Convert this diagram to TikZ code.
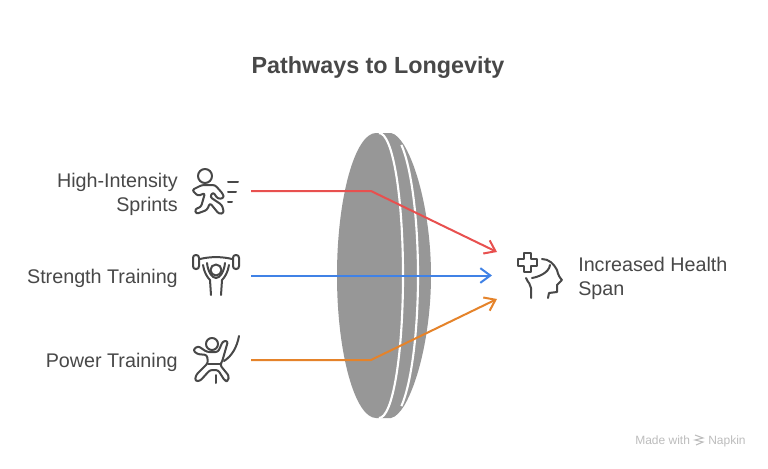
\documentclass[tikz,border=0pt]{standalone}
\usepackage{fontspec}
\setmainfont{Liberation Sans}
\usetikzlibrary{arrows.meta}
\definecolor{ink}{HTML}{484848}
\definecolor{lens}{HTML}{979797}
\definecolor{redl}{HTML}{E8504F}
\definecolor{bluel}{HTML}{4082E6}
\definecolor{orangel}{HTML}{E5832A}
\definecolor{faint}{HTML}{BDBDBD}
\tikzset{
 lab/.style={text=ink,font=\fontsize{14.8}{18}\selectfont,inner sep=0pt,align=right,anchor=east},
 labr/.style={text=ink,font=\fontsize{14.8}{18}\selectfont,inner sep=0pt,align=left,anchor=west},
 foot/.style={text=faint,font=\fontsize{9}{10}\selectfont,inner sep=0pt},
 icon/.style={draw=ink,line width=1.5pt,line cap=round,line join=round,fill=none},
 conn/.style={line width=1.5pt,-{Straight Barb[length=7.5pt,width=11pt,line width=1.5pt]},line join=round},
 gap/.style={draw=white,line width=1.6pt}
}
\begin{document}
\begin{tikzpicture}[x=0.75pt,y=-0.75pt]
\useasboundingbox (0,0) rectangle (768,468);
\fill[white] (0,0) rectangle (768,468);
\node[text=ink,font=\fontsize{17.5}{22}\selectfont\bfseries,inner sep=0pt] (title) at (378,68) {Pathways to Longevity};
% lens
\fill[lens] (376,133) .. controls (355.4,133) and (337,196.5) .. (337,275.5) .. controls (337,354.5) and (355.4,418) .. (376,418) -- (391,418) .. controls (396,417) and (400,412) .. (404,406) .. controls (420,379) and (431,326) .. (431,275.5) .. controls (431,225) and (420,172) .. (404,145) .. controls (400,139) and (396,134) .. (391,133) -- cycle;
\draw[gap] (379,133) .. controls (392.8,133) and (403,196.5) .. (403,275.5) .. controls (403,354.5) and (392.8,418) .. (379,418);
\draw[gap] plot[smooth,domain=-66:66,samples=40] ({390+28*cos(\x)},{275.5+143*sin(\x)});
% labels
\node[lab] (a) at (178,194) {High-Intensity\\Sprints};
\node[lab] (b) at (178,278) {Strength Training};
\node[lab] (c) at (178,362) {Power Training};
\node[labr] (d) at (578,278) {Increased Health\\Span};
\node[foot,anchor=base west] (m) at (635,444) {Made with};
\node[foot,anchor=base west] (n) at (708,444) {Napkin};
% connectors
\coordinate (a0) at (251,191); \coordinate (a1) at (371,191); \coordinate (a2) at (497,252);
\coordinate (b0) at (251,275.5); \coordinate (b2) at (492,275.5);
\coordinate (c0) at (251,360); \coordinate (c1) at (371,360); \coordinate (c2) at (497,299);
\draw[conn,redl] (a0) -- (a1) -- (a2);
\draw[conn,bluel] (b0) -- (b2);
\draw[conn,orangel] (c0) -- (c1) -- (c2);
% runner icon
\draw[icon] (205,176) circle (7);
\draw[icon] (228,182) -- (238,182) (228,192) -- (236,192) (228,202) -- (232,202);
\draw[icon,rounded corners=1.8pt] (192,190) -- (202,185) -- (215,185) -- (223,194) -- (224,198) -- (218,199) -- (213,192) -- (210,197) -- (222,205) -- (224,213) -- (219,214) -- (210,203) -- (207,210) -- (196,214) -- (195,209) -- (201,207) -- (205,193) -- (198,196) -- cycle;
% lifter icon
\draw[icon] (216,270) circle (5.5);
\draw[icon,rounded corners=2pt] (193,255) rectangle (199,269);
\draw[icon,rounded corners=2pt] (233,255) rectangle (239,269);
\draw[icon] (200,259) .. controls (210,256.5) and (222,256.5) .. (232,259);
\draw[icon] (203,265) .. controls (204,272) and (207,277) .. (210,280) -- (211,295);
\draw[icon] (229,265) .. controls (228,272) and (225,277) .. (222,280) -- (221,295);
\draw[icon] (207,263) .. controls (208,272) and (212,278) .. (216,278) .. controls (220,278) and (224,272) .. (225,263);
% power icon
\draw[icon] (212,344) circle (6);
\draw[icon,rounded corners=1.8pt] (193,350) -- (198,346) -- (207,352) -- (218,352) -- (223,341) -- (228,341) -- (222,362) -- (220,365) -- (229,376) -- (228,381) -- (225,381) -- (218,370) -- (210,370) -- (200,381) -- (195,381) -- (196,375) -- (208,363) -- (207,355) -- (197,354) -- cycle;
\draw[icon] (208,364) -- (221,364);
\draw[icon] (216,375) -- (216,383);
\draw[icon] (224,361) .. controls (232,356) and (237,347) .. (239,336);
% head icon
\draw[icon] (524,253) -- (531,253) -- (531,259) -- (537,259) -- (537,266) -- (531,266) -- (531,272) -- (524,272) -- (524,266) -- (518,266) -- (518,259) -- (524,259) -- cycle;
\draw[icon] (542,259) .. controls (549,259) and (554,264) .. (557,270) .. controls (558,275) and (560,278) .. (562,280) -- (557,285) -- (557,292) -- (549,293) -- (548,298);
\draw[icon] (526,278) .. controls (528,283) and (531,284) .. (531,288) -- (531,298);
\draw[icon] (532,278) .. controls (538,277) and (549,273) .. (550,265);
% napkin mark
\draw[faint,line width=0.8pt] (695,435) -- (703,438) -- (695,440) -- (703,442) -- (696,445);
\end{tikzpicture}
\end{document}
